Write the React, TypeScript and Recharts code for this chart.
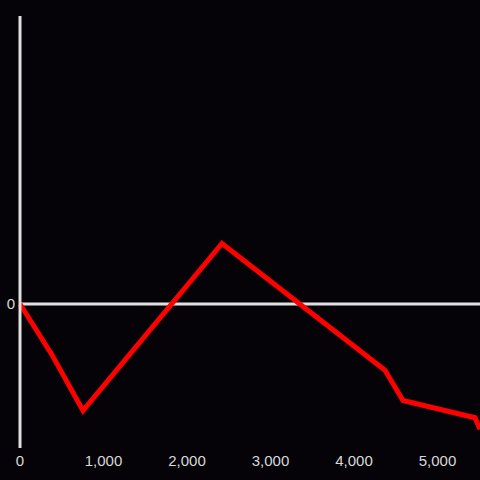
import React from "react";
import { LineChart, Line, XAxis, YAxis, ReferenceLine } from "recharts";

const xValues = [0, 380, 754, 2419, 4371, 4587, 5449, 5509];
const yValues = [0, -35, -74, 42, -46, -67, -79, -87];
const xTicks = [0, 1000, 2000, 3000, 4000, 5000];
const yTicks = [0];

const data = xValues.map((x, i) => ({ x, y: yValues[i] }));

const fmt = (v: number) => v.toLocaleString("en-US");

export default function App() {
  return (
    <div style={{ position: "absolute", left: 0, top: 0, width: 480, height: 480, background: "#050308" }}>
      <LineChart width={480} height={480} data={data} margin={{ top: 16, right: 0, bottom: 0, left: 0 }}>
        <XAxis
          dataKey="x"
          type="number"
          domain={[0, 5509]}
          ticks={xTicks}
          tickFormatter={fmt}
          axisLine={false}
          tickLine={false}
          tickSize={0}
          tickMargin={7}
          height={32}
          interval={0}
          tick={{ fill: "#d8d8d8", fontSize: 15, fontFamily: "Liberation Sans, Arial, sans-serif" }}
        />
        <YAxis
          type="number"
          domain={[-100, 200]}
          ticks={yTicks}
          width={20}
          axisLine={{ stroke: "#e0e0e0", strokeWidth: 3 }}
          tickLine={false}
          tickSize={0}
          tickMargin={5}
          tick={{ fill: "#d8d8d8", fontSize: 15, fontFamily: "Liberation Sans, Arial, sans-serif" }}
        />
        <ReferenceLine y={0} stroke="#e0e0e0" strokeWidth={3} />
        <Line
          type="linear"
          dataKey="y"
          stroke="#ff0000"
          strokeWidth={5}
          dot={false}
          activeDot={false}
          isAnimationActive={false}
        />
      </LineChart>
    </div>
  );
}
